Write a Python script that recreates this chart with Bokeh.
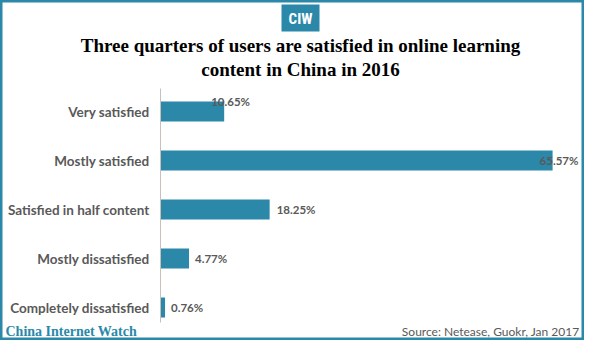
from bokeh.plotting import figure
from bokeh.models import ColumnDataSource, Range1d, Label, BoxAnnotation
from bokeh.core.properties import value
from bokeh.embed import file_html
from bokeh.resources import INLINE

# ---- data ----
categories = ["Very satisfied", "Mostly satisfied", "Satisfied in half content",
              "Mostly dissatisfied", "Completely dissatisfied"]
shares = [10.65, 65.57, 18.25, 4.77, 0.76]
value_labels = ["10.65%", "65.57%", "18.25%", "4.77%", "0.76%"]

title_lines = ["Three quarters of users are satisfied in online learning",
               "content in China in 2016"]
source_text = "Source: Netease, Guokr, Jan 2017"
brand_text = "China Internet Watch"
logo_text = "CIW"

# ---- style ----
TEAL = "#2b88a9"
GRAY = "#595959"
W, H = 584, 340
AXIS_PX = 160           # x pixel of the zero line inside the figure
PX_PER_PCT = 5.98
ROW_PX = 49
FIRST_ROW_PX = 111      # from top

# per-label pixel nudges (reference placement)
label_dx = [-13, -13, 7, 6, 6]
label_dy = [-10, 0, 0, 0, 0]

idx = list(range(len(categories)))
src = ColumnDataSource(dict(
    y=idx, cat=categories, v=shares, lab=value_labels,
    dx=label_dx, dy=label_dy, zero=[0] * len(idx),
))

x_start = -AXIS_PX / PX_PER_PCT
x_end = (W - AXIS_PX) / PX_PER_PCT
y_top = -FIRST_ROW_PX / ROW_PX
y_bottom = (H - FIRST_ROW_PX) / ROW_PX

p = figure(width=W, height=H, output_backend="svg", toolbar_location=None,
           x_range=Range1d(x_start, x_end), y_range=Range1d(y_bottom, y_top),
           x_axis_location=None, y_axis_location=None,
           min_border=0, min_border_left=0, min_border_right=0,
           min_border_top=0, min_border_bottom=0)
p.grid.visible = False
p.background_fill_color = "white"
p.border_fill_color = "white"
p.outline_line_color = TEAL
p.outline_line_width = 4

# bars
p.hbar(y="y", left=0, right="v", height=20 / ROW_PX, source=src,
       fill_color=TEAL, line_color=None)

# zero axis line
p.segment(x0=0, y0=y_top + 88 / ROW_PX, x1=0, y1=y_top + 322 / ROW_PX,
          line_color="#c8c0bc", line_width=1)

# category labels
p.text(x="zero", y="y", text="cat", source=src, x_offset=-11,
       text_align="right", text_baseline="middle",
       text_font=value("Lato"), text_font_style="bold",
       text_font_size="13.5px", text_color=GRAY)

# value labels
p.text(x="v", y="y", text="lab", source=src, x_offset="dx", y_offset="dy",
       text_align="left", text_baseline="middle",
       text_font=value("Lato"), text_font_style="bold",
       text_font_size="11.5px", text_color=GRAY)

# logo
p.add_layout(BoxAnnotation(left=281, right=319, top=H - 4, bottom=H - 31,
                           left_units="screen", right_units="screen",
                           top_units="screen", bottom_units="screen",
                           fill_color=TEAL, fill_alpha=1, line_color=None))
p.add_layout(Label(x=300, y=H - 18, x_units="screen", y_units="screen",
                   text=logo_text, text_align="center", text_baseline="middle",
                   text_font="Roboto Condensed, Liberation Sans Narrow, DejaVu Sans Condensed",
                   text_font_style="bold", text_font_size="15px", text_color="white"))

# title
for i, line in enumerate(title_lines):
    p.add_layout(Label(x=300, y=H - 45 - 24 * i, x_units="screen", y_units="screen",
                       text=line, text_align="center", text_baseline="middle",
                       text_font="Liberation Serif", text_font_style="bold",
                       text_font_size="19px", text_color="black"))

# footer
p.add_layout(Label(x=5, y=2, x_units="screen", y_units="screen",
                   text=brand_text, text_align="left", text_baseline="bottom",
                   text_font="Liberation Serif", text_font_style="bold",
                   text_font_size="14px", text_color=TEAL))
p.add_layout(Label(x=W - 5, y=2, x_units="screen", y_units="screen",
                   text=source_text, text_align="right", text_baseline="bottom",
                   text_font="Lato", text_font_size="12px", text_color=GRAY))

open("out.html", "w").write(file_html(p, INLINE))
